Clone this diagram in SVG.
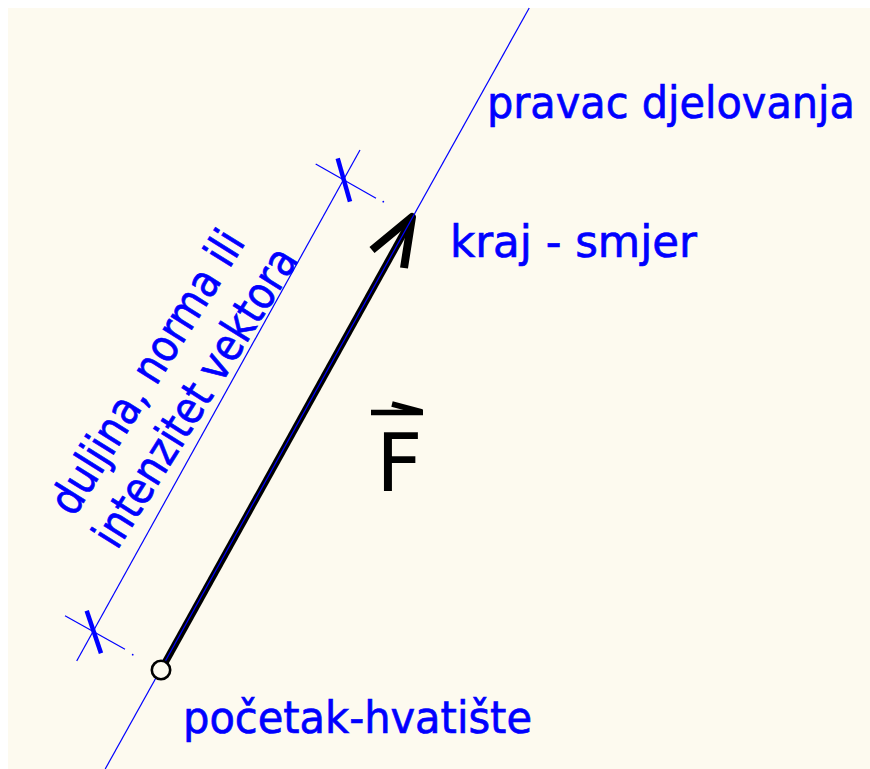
<svg xmlns="http://www.w3.org/2000/svg" width="870" height="769" viewBox="0 0 870 769">
<style>
.lbl{font-family:"DejaVu Sans",sans-serif;font-size:44px;fill:#0000ff;stroke:#0000ff;stroke-width:0.7}
.rot{font-family:"DejaVu Sans",sans-serif;font-size:45px;fill:#0000ff;stroke:#0000ff;stroke-width:0.7}
.thin{stroke:#0000ff;stroke-width:1.2;fill:none}
.tick{stroke:#0000ff;stroke-width:4.5;fill:none}
</style>
<rect x="0" y="0" width="870" height="769" fill="#ffffff"/>
<rect x="8" y="8" width="862" height="761" fill="#fdfaef"/>
<g id="connectors">
  <g id="vector-F">
    <line x1="161" y1="670" x2="411" y2="220" stroke="#000" stroke-width="7"/>
    <polyline points="372,250 412,217 404,268" fill="none" stroke="#000" stroke-width="8" stroke-linejoin="round"/>
  </g>
  <line id="pravac" class="thin" x1="529.2" y1="8" x2="105.2" y2="769"/>
  <g id="dimension">
    <line class="thin" x1="76.7" y1="661" x2="360" y2="150"/>
    <line class="thin" x1="315.7" y1="164" x2="376" y2="198.3"/>
    <circle cx="383.3" cy="201.7" r="0.9" fill="#0000ff"/>
    <line class="thin" x1="65" y1="615.7" x2="125" y2="649.3"/>
    <circle cx="132.7" cy="654.7" r="0.9" fill="#0000ff"/>
    <line class="tick" x1="337.7" y1="158.3" x2="350" y2="201.7"/>
    <line class="tick" x1="86.7" y1="610.7" x2="101" y2="653.3"/>
  </g>
</g>
<g id="origin">
  <circle cx="161" cy="670" r="9.2" fill="#fdfaef" stroke="#000" stroke-width="2.6"/>
</g>
<g id="label-pravac"><text class="lbl" x="487" y="118" textLength="368" lengthAdjust="spacingAndGlyphs">pravac djelovanja</text></g>
<g id="label-kraj"><text class="lbl" x="450" y="257" textLength="247" lengthAdjust="spacingAndGlyphs">kraj - smjer</text></g>
<g id="label-pocetak"><text class="lbl" x="183" y="733" textLength="349" lengthAdjust="spacingAndGlyphs">početak-hvatište</text></g>
<g id="label-duljina">
  <text class="rot" transform="translate(74,518) rotate(-58)" textLength="325" lengthAdjust="spacingAndGlyphs">duljina, norma ili</text>
  <text class="rot" transform="translate(117,551) rotate(-58)" textLength="344" lengthAdjust="spacingAndGlyphs">intenzitet vektora</text>
</g>
<g id="label-F">
  <text x="376" y="491" font-family="DejaVu Sans, sans-serif" font-size="81" fill="#000">F</text>
  <line x1="371" y1="412.5" x2="423" y2="412.5" stroke="#000" stroke-width="5.5"/>
  <line x1="392" y1="404" x2="422" y2="412" stroke="#000" stroke-width="5.5"/>
</g>
</svg>
